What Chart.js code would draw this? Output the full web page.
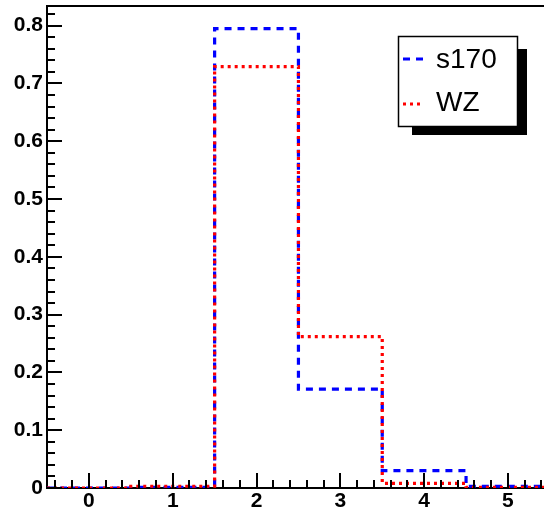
<!DOCTYPE html>
<html>
<head>
<meta charset="utf-8">
<script src="https://cdn.jsdelivr.net/npm/chart.js@4"></script>
<style>
  html, body { margin: 0; padding: 0; background: #fff; }
  canvas { display: block; }
</style>
</head>
<body>
<canvas id="chart" width="544" height="512"></canvas>
<script>
// bin centres (width 1) and histogram contents
const binCenters = [0, 1, 2, 3, 4, 5];
const s170 = [0.000, 0.001, 0.795, 0.171, 0.030, 0.003];
const wz = [0.000, 0.003, 0.729, 0.262, 0.008, 0.001];
const xTicks = [0, 1, 2, 3, 4, 5];
const yTicks = [0, 0.1, 0.2, 0.3, 0.4, 0.5, 0.6, 0.7, 0.8];

// histogram outline: one point per low edge, plus last high edge
function histPoints(values) {
    const pts = binCenters.map((c, i) => ({ x: c - 0.5, y: values[i] }));
    pts.push({ x: binCenters[binCenters.length - 1] + 0.5, y: values[values.length - 1] });
    return pts;
}

const font = { family: "'Liberation Sans', Arial, Helvetica, sans-serif", size: 21, weight: 'bold' };

// ROOT style ticks drawn inside the frame, plus frame top and legend
const rootFrame = {
    id: 'rootFrame',
    afterDraw(chart) {
        const ctx = chart.ctx;
        const area = chart.chartArea;
        const xs = chart.scales.x, ys = chart.scales.y;
        ctx.save();
        ctx.setLineDash([]);
        ctx.fillStyle = '#000';
        // frame top
        ctx.fillRect(area.left - 1, area.top - 1, area.right - area.left + 1, 2);

        // x ticks every 0.2, major every 1
        for (let k = -2; k <= 27; k++) {
            const px = Math.round(xs.getPixelForValue(k / 5));
            const len = k % 5 === 0 ? 15 : 8;
            ctx.fillRect(px - 1, area.bottom - len, 2, len);
        }
        // y ticks every 0.02, major every 0.1
        for (let k = 0; k <= 41; k++) {
            const py = Math.round(ys.getPixelForValue(k / 50));
            const len = k % 5 === 0 ? 15 : 8;
            ctx.fillRect(area.left, py - 1, len, 2);
        }

        // legend with shadow
        ctx.fillStyle = '#000';
        ctx.fillRect(412, 49, 115, 86);
        ctx.fillStyle = '#fff';
        ctx.fillRect(398, 36, 120, 91);
        ctx.strokeStyle = '#000';
        ctx.lineWidth = 1.5;
        ctx.strokeRect(398.5, 36.5, 119, 90);

        const rows = [{ ds: chart.data.datasets[1], y: 59, base: 68 }, { ds: chart.data.datasets[0], y: 104, base: 111 }];
        rows.forEach(r => {
            ctx.strokeStyle = r.ds.borderColor;
            ctx.lineWidth = 3;
            ctx.setLineDash(r.ds.borderDash);
            ctx.beginPath();
            ctx.moveTo(403, r.y);
            ctx.lineTo(424, r.y);
            ctx.stroke();
            ctx.setLineDash([]);
            ctx.fillStyle = '#000';
            ctx.font = "28px 'Liberation Sans', Arial, Helvetica, sans-serif";
            ctx.textBaseline = 'alphabetic';
            ctx.fillText(r.ds.label, 436, r.base);
        });
        ctx.restore();
    }
};

new Chart(document.getElementById('chart'), {
    type: 'line',
    data: {
        datasets: [
            {
                label: 'WZ',
                data: histPoints(wz),
                borderColor: '#ff0000',
                borderWidth: 3.2,
                borderDash: [3, 4],
                stepped: true,
                pointRadius: 0,
                fill: false
            },
            {
                label: 's170',
                data: histPoints(s170),
                borderColor: '#0000ff',
                borderWidth: 3.2,
                borderDash: [7, 6],
                stepped: true,
                pointRadius: 0,
                fill: false
            }
        ]
    },
    options: {
        responsive: false,
        animation: false,
        devicePixelRatio: 1,
        layout: { padding: { top: 6, right: 0, bottom: 0, left: 0 } },
        plugins: { legend: { display: false }, tooltip: { enabled: false } },
        scales: {
            x: {
                type: 'linear',
                min: -0.5,
                max: 5.43,
                grid: { display: false, drawTicks: false },
                border: { display: true, color: '#000', width: 2 },
                afterBuildTicks: scale => { scale.ticks = xTicks.map(v => ({ value: v })); },
                afterFit: scale => { scale.height = 24; scale.paddingLeft = 0; scale.paddingRight = 0; },
                ticks: { color: '#000', font: font, padding: 1, maxRotation: 0, autoSkip: false }
            },
            y: {
                type: 'linear',
                min: 0,
                max: 0.834,
                grid: { display: false, drawTicks: false },
                border: { display: true, color: '#000', width: 2 },
                afterBuildTicks: scale => { scale.ticks = yTicks.map(v => ({ value: v })); },
                afterFit: scale => { scale.width = 47; scale.paddingTop = 0; scale.paddingBottom = 0; },
                ticks: { color: '#000', font: font, padding: 4, autoSkip: false }
            }
        }
    },
    plugins: [rootFrame]
});
</script>
</body>
</html>
